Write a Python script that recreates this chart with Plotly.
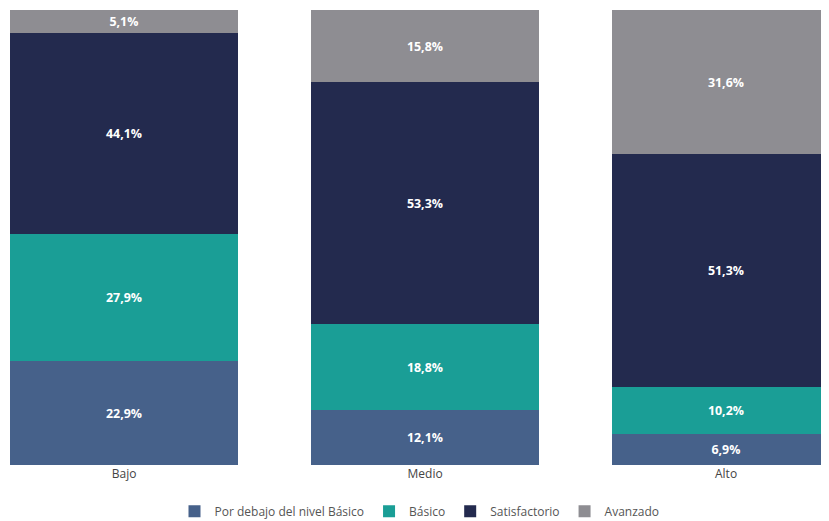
import plotly.graph_objects as go

niveles = ["Bajo", "Medio", "Alto"]
por_debajo = [22.9, 12.1, 6.9]
basico = [27.9, 18.8, 10.2]
satisfactorio = [44.1, 53.3, 51.3]
avanzado = [5.1, 15.8, 31.6]

series = [
    ("Por debajo del nivel Básico", por_debajo, "#46618A"),
    ("Básico", basico, "#1A9E96"),
    ("Satisfactorio", satisfactorio, "#232A4E"),
    ("Avanzado", avanzado, "#8E8D92"),
]

fig = go.Figure()
for nombre, vals, color in series:
    fig.add_trace(go.Bar(
        name=nombre, x=niveles, y=vals, marker_color=color,
        marker_line_width=0, width=0.757,
        text=[f"{v:.1f}%".replace(".", ",") for v in vals],
        textposition="inside", insidetextanchor="middle",
        textfont=dict(color="white", size=13, family="Open Sans"),
        texttemplate="<b>%{text}</b>",
    ))

fig.update_layout(
    barmode="stack", width=829, height=521,
    margin=dict(l=2, r=8, t=2, b=64, autoexpand=False),
    plot_bgcolor="white", paper_bgcolor="white",
    font=dict(family="Open Sans", color="#444", size=12),
    legend=dict(orientation="h", x=0.5, xanchor="center", y=-0.07, yanchor="top",
                font=dict(size=12, color="#555"), traceorder="normal",
                itemwidth=30),
    uniformtext=dict(mode="show", minsize=8),
)
fig.update_xaxes(range=[-0.379, 2.342], showline=False, ticks="", tickfont=dict(size=12, color="#444"))
fig.update_yaxes(range=[0, 100], visible=False)

fig.write_html("out.html")
